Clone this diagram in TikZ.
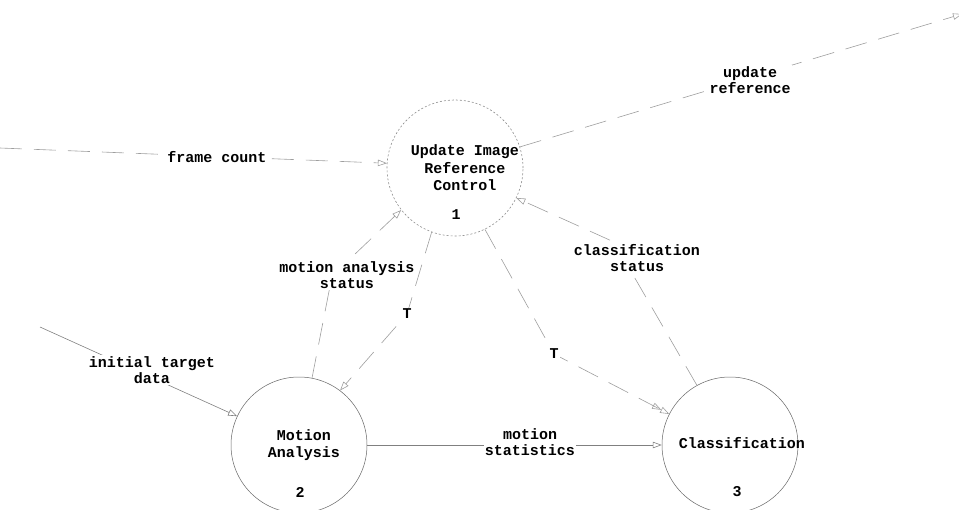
\documentclass[tikz,border=0pt]{standalone}
\usepackage{fontspec}
\setmainfont{Liberation Mono}
\usetikzlibrary{arrows.meta}
\begin{document}
\begin{tikzpicture}[x=1pt,y=-1pt,
  proc/.style={circle,minimum size=136pt,inner sep=0pt},
  flowdash/.style={draw=black!38,line width=0.6pt,dash pattern=on 22pt off 12pt},
  flowsolid/.style={draw=black!50,line width=0.6pt},
  tip/.style={-{Triangle[open,length=9pt,width=6.5pt]}},
  dtip/.style={-{Triangle[open,length=9pt,width=6.5pt]Triangle[open,length=9pt,width=6.5pt]}},
  lbl/.style={font=\fontsize{15}{16.5}\selectfont\bfseries,align=center,inner sep=1pt,fill=white},
  txt/.style={font=\fontsize{15}{17.5}\selectfont\bfseries,align=center,inner sep=0pt}]
\useasboundingbox (0,0) rectangle (959,509);
% processes
\node[proc,draw=black!45,line width=0.6pt,dash pattern=on 2pt off 2pt] (c1) at (455,168) {};
\node[proc,draw=black!60,line width=0.5pt] (c2) at (299,445) {};
\node[proc,draw=black!60,line width=0.5pt] (c3) at (730,445) {};
\node[txt] (t1) at (465,168) {Update Image\\Reference\\Control};
\node[txt] (n1) at (456,215) {1};
\node[txt] (t2) at (304,445) {Motion\\Analysis};
\node[txt] (n2) at (300,492) {2};
\node[txt] (t3) at (742,443) {Classification};
\node[txt] (n3) at (737,492) {3};
% free ends and bend points
\coordinate (fcsrc) at (0,148);
\coordinate (ursink) at (962,14);
\coordinate (itsrc) at (40,327);
\coordinate (bma) at (332,276);
\coordinate (bcs) at (614,242);
\coordinate (bt1) at (407,314);
\coordinate (bt2) at (554,354);
% flows
\draw[flowdash,tip] (fcsrc) -- (c1.176);
\draw[flowdash,tip] (c1.18) -- (ursink);
\draw[flowdash,tip] (c2.79) -- (bma) -- (c1.218);
\draw[flowdash,tip] (c3.119) -- (bcs) -- (c1.334);
\draw[flowsolid,tip] (itsrc) -- (c2.155);
\draw[flowsolid,tip] (c2.0) -- (c3.180);
% labels
\node[lbl] (lfc) at (217,157) {frame count};
\node[lbl] (lur) at (750,80) {update\\reference};
\node[lbl] (lma) at (347,275) {motion analysis\\status};
\node[lbl] (lcs) at (637,258) {classification\\status};
\node[lbl] (lit) at (152,370) {initial target\\data};
\node[lbl] (lms) at (530,442) {motion\\statistics};
\draw[flowdash,tip] (c1.250) -- (bt1) -- (c2.53);
\draw[flowdash,dtip] (c1.296) -- (bt2) -- (c3.153);
\node[lbl] (lt1) at (bt1) {T};
\node[lbl] (lt2) at (bt2) {T};
\end{tikzpicture}
\end{document}
